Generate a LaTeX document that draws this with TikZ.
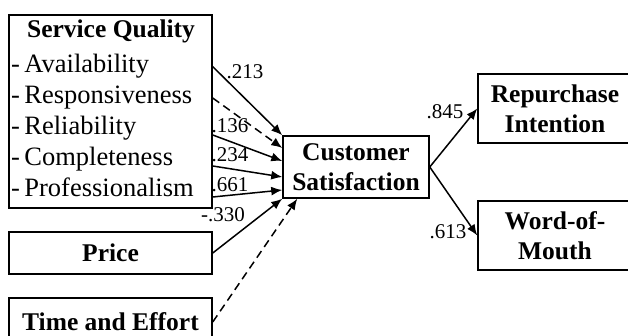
\documentclass[tikz,border=0pt]{standalone}
\usepackage{fontspec}
\setmainfont{Liberation Serif}
\usetikzlibrary{arrows.meta,calc}

\tikzset{
  box/.style={draw, line width=1.5pt, inner sep=0pt, align=center,
    font=\bfseries\fontsize{25.5}{30}\selectfont},
  item/.style={anchor=base west, inner sep=0pt, font=\fontsize{26.5}{30}\selectfont},
  coef/.style={inner sep=0pt, font=\fontsize{21}{22}\selectfont},
  link/.style={->, line width=1.5pt},
  dlink/.style={link, dash pattern=on 8pt off 5pt}
}

\begin{document}
\begin{tikzpicture}[x=1pt, y=-1pt, >={Latex[length=11pt,width=9pt]}]
\useasboundingbox (0,0) rectangle (628,336);
\clip (0,0) rectangle (628,336);
% left side
\node[box, minimum width=203pt, minimum height=193pt] (sq) at (110.5,111.5) {};
\node[anchor=base, inner sep=0pt, font=\bfseries\fontsize{25.5}{30}\selectfont] (sqtitle) at (111,38) {Service Quality};
\foreach \t/\n [count=\i] in {Availability/avail, Responsiveness/resp, Reliability/reli, Completeness/compl, Professionalism/prof}
    \node[item] (\n) at (11,42+31*\i) {-\,\t};
\node[box, minimum width=203pt, minimum height=42pt] (price) at (110.5,253) {Price};
\node[box, minimum width=203pt, minimum height=48pt] (time) at (110.5,322) {Time and Effort};
% middle and right
\node[box, minimum width=146pt, minimum height=62pt] (cs) at (356,167) {Customer\\Satisfaction};
\node[box, minimum width=154pt, minimum height=69pt] (rep) at (555,108.5) {Repurchase\\Intention};
\node[box, minimum width=154pt, minimum height=69pt] (wom) at (555,235.5) {Word-of-\\Mouth};

\draw[link] (sq.east |- avail) -- (cs.north west);
\draw[dlink] (sq.east |- resp) -- ($(cs.west)+(0,-19)$);
\draw[link] (sq.east |- reli.base) -- ($(cs.west)+(0,-6)$);
\draw[link] (sq.east |- compl.base) -- ($(cs.west)+(0,10)$);
\draw[link] (sq.east |- prof.base) -- ($(cs.west)+(0,23)$);
\draw[link] (price.east) -- (cs.south west);
\draw[dlink] (time.east) -- ($(cs.south west)+(15,0)$);
\draw[link] (cs.east) -- (rep.west);
\draw[link] (cs.east) -- (wom.west);

% path coefficients
\node[coef] (c213) at (245,72) {.213};
\node[coef] (c136) at (230,126) {.136};
\node[coef] (c234) at (230,155) {.234};
\node[coef] (c661) at (230,185) {.661};
\node[coef] (c330) at (223,215) {-.330};
\node[coef] (c845) at (445,112) {.845};
\node[coef] (c613) at (448,232) {.613};
\end{tikzpicture}
\end{document}
